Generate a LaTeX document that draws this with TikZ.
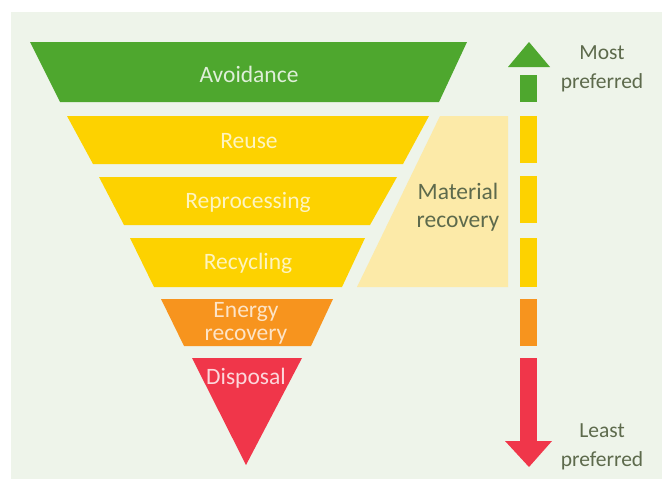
\documentclass[tikz,border=0pt]{standalone}
\usepackage{fontspec}
\setmainfont{Carlito}
\definecolor{panel}{HTML}{EEF4EA}
\definecolor{cgreen}{HTML}{4EA72E}
\definecolor{cyellow}{HTML}{FDD200}
\definecolor{clight}{HTML}{FCEAA8}
\definecolor{corange}{HTML}{F7941E}
\definecolor{cred}{HTML}{F0364A}
\definecolor{ctext}{HTML}{5D6A4C}
\tikzset{
  lbl/.style={font=\fontsize{23.5}{23}\selectfont, align=center, inner sep=0pt},
  side/.style={font=\fontsize{21.5}{29}\selectfont, align=center, inner sep=0pt, text=ctext},
}
\begin{document}
\begin{tikzpicture}[x=1pt,y=-1pt]
\useasboundingbox (0,0) rectangle (662,479);
\fill[white] (0,0) rectangle (662,479);
\fill[panel] (11,12) rectangle (662,479);
% levels
\fill[cgreen] (30,42) -- (467,42) -- (439,102) -- (60,102) -- cycle;
\fill[cyellow] (67,116) -- (429,116) -- (403,164) -- (93,164) -- cycle;
\fill[cyellow] (99,177) -- (397,177) -- (370,225) -- (124,225) -- cycle;
\fill[cyellow] (130,238) -- (365,238) -- (342,287) -- (154,287) -- cycle;
\fill[corange] (161,299) -- (333,299) -- (311,346) -- (184,346) -- cycle;
\fill[cred] (192,358) -- (302,358) -- (246,465) -- cycle;
\fill[clight] (440,116) -- (508,116) -- (508,287) -- (357,287) -- cycle;
% labels
\node[lbl, text=white!82!cgreen] (avoid) at (249,74) {Avoidance};
\node[lbl, text=white!75!cyellow] (reuse) at (249,141) {Reuse};
\node[lbl, text=white!75!cyellow] (repro) at (248,202) {Reprocessing};
\node[lbl, text=white!75!cyellow] (recyc) at (248,263) {Recycling};
\node[lbl, text=white!75!corange] (energy) at (246,323) {Energy\\recovery};
\node[lbl, text=white!80!cred] (disp) at (246,378) {Disposal};
\node[lbl, text=ctext, font=\fontsize{23.5}{28}\selectfont] (matrec) at (458,207) {Material\\recovery};
% preference arrow
\fill[cgreen] (529,42) -- (550,67) -- (508,67) -- cycle;
\fill[cgreen] (520,75) rectangle (537,102);
\fill[cyellow] (520,116) rectangle (537,163);
\fill[cyellow] (520,176) rectangle (537,223);
\fill[cyellow] (520,238) rectangle (537,287);
\fill[corange] (520,299) rectangle (537,346);
\fill[cred] (520,358) rectangle (537,442);
\fill[cred] (505,441) -- (552,441) -- (529,467) -- cycle;
\node[side] (most) at (602,69) {Most\\preferred};
\node[side] (least) at (602,447) {Least\\preferred};
\end{tikzpicture}
\end{document}
